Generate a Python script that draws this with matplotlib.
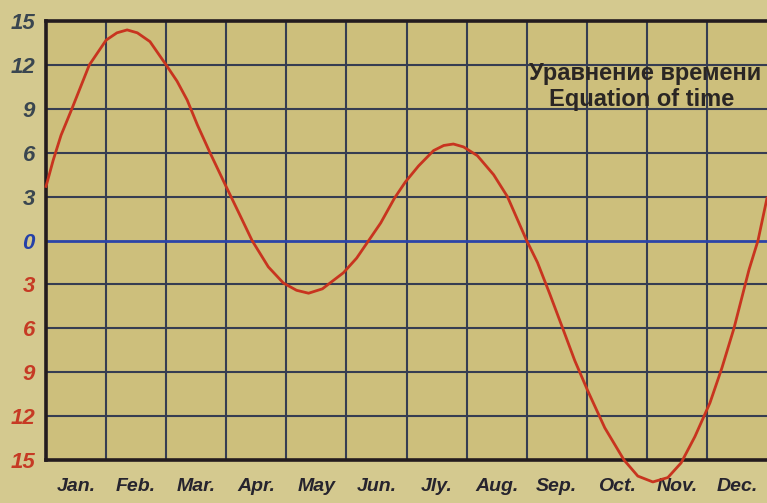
import matplotlib.pyplot as plt
import numpy as np

# equation of time, minutes (x in months from Jan 1)
month_pos = [0.00, 0.12, 0.25, 0.43, 0.72, 1.00, 1.18, 1.35, 1.52, 1.73,
             2.00, 2.18, 2.35, 2.52, 2.73, 3.02, 3.22, 3.43, 3.70, 3.95,
             4.17, 4.37, 4.60, 4.95, 5.17, 5.37, 5.57, 5.80, 5.98, 6.20,
             6.45, 6.62, 6.78, 6.95, 7.18, 7.45, 7.68, 8.00, 8.18, 8.38,
             8.60, 8.80, 9.02, 9.30, 9.62, 9.85, 10.10, 10.35, 10.57, 10.80,
             11.05, 11.25, 11.45, 11.70, 11.85, 12.00]
eot = [3.7, 5.5, 7.2, 9.0, 12.0, 13.7, 14.2, 14.4, 14.2, 13.6,
       12.0, 10.9, 9.6, 7.9, 6.0, 3.5, 1.8, 0.0, -1.8, -2.9,
       -3.4, -3.6, -3.3, -2.2, -1.2, 0.0, 1.2, 2.9, 4.0, 5.1,
       6.15, 6.5, 6.6, 6.4, 5.8, 4.5, 3.0, 0.0, -1.5, -3.6,
       -6.0, -8.2, -10.3, -12.8, -15.0, -16.1, -16.5, -16.2, -15.2, -13.4,
       -11.1, -8.7, -6.0, -2.0, 0.0, 2.9]

months = ['Jan.', 'Feb.', 'Mar.', 'Apr.', 'May', 'Jun.', 'Jly.', 'Aug.',
          'Sep.', 'Oct.', 'Nov.', 'Dec.']
yticks = [15, 12, 9, 6, 3, 0, -3, -6, -9, -12, -15]

fig = plt.figure(figsize=(7.67, 5.03), dpi=100)
fig.patch.set_facecolor('#d4c98f')
ax = fig.add_axes([0.06, 0.0855, 0.94, 0.8725])
ax.set_facecolor('#cdbf7c')

ax.set_xlim(0, 12)
ax.set_ylim(-15, 15)

gridc = '#363d52'
for m in range(1, 12):
    ax.axvline(m, color=gridc, lw=1.5, zorder=1)
for v in yticks:
    if v not in (0, 15, -15):
        ax.axhline(v, color=gridc, lw=1.5, zorder=1)
ax.axhline(0, color='#2b44a8', lw=2.0, zorder=2)

ax.plot(month_pos, eot, color='#c8341f', lw=2.0, zorder=3, clip_on=False)

for s in ['top', 'left', 'bottom']:
    ax.spines[s].set_linewidth(2.6)
    ax.spines[s].set_color('#231b1e')
ax.spines['right'].set_visible(False)

ax.set_xticks(np.arange(12) + 0.5)
ax.set_xticklabels(months, fontsize=14, fontweight='bold', style='italic',
                   family='Liberation Sans', color='#26242e')
ax.tick_params(axis='x', length=0, pad=13)

ax.set_yticks(yticks)
ax.set_yticklabels([str(abs(v)) for v in yticks], fontsize=16,
                   fontweight='bold', style='italic', family='Liberation Sans')
ax.tick_params(axis='y', length=0, pad=8)
for lab, v in zip(ax.get_yticklabels(), yticks):
    if v > 0:
        lab.set_color('#3a4650')
    elif v == 0:
        lab.set_color('#2440a8')
    else:
        lab.set_color('#c63a24')

ax.text(11.9, 11.4, 'Уравнение времени', ha='right', va='center',
        fontsize=17, fontweight='bold', family='Liberation Sans', color='#2a2624')
ax.text(11.45, 9.65, 'Equation of time', ha='right', va='center',
        fontsize=17, fontweight='bold', family='Liberation Sans', color='#2a2624')

fig.savefig('out.png', dpi=100, facecolor=fig.get_facecolor())
